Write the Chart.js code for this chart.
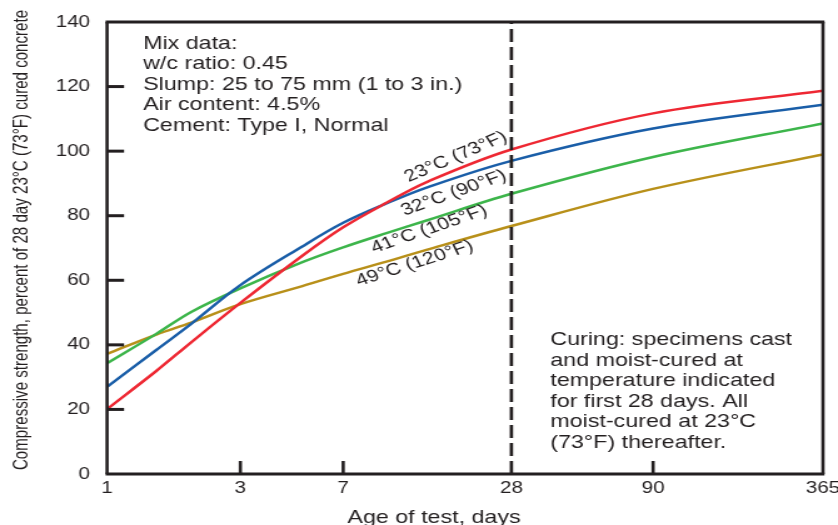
<!DOCTYPE html>
<html>
<head>
<meta charset="utf-8">
<script src="https://cdn.jsdelivr.net/npm/chart.js@4.4.1/dist/chart.umd.min.js"></script>
<style>
  html, body { margin: 0; padding: 0; background: #fff; overflow: hidden; }
  /* 整张图横向拉宽 */
  #wrap { width: 670px; height: 525px; transform: scaleX(1.2507); transform-origin: 0 0; }
</style>
</head>
<body>
<div id="wrap"><canvas id="chart"></canvas></div>
<script>
// 不同养护温度下的强度发展（以 23°C 养护 28 天强度为 100%）
const ageDays = [1, 1.5, 2, 3, 5, 7, 10, 14, 28, 90, 365];
const xTicks = [1, 3, 7, 28, 90, 365];
const yTicks = [0, 20, 40, 60, 80, 100, 120, 140];

const strength23 = [20.1, 31.9, 40.8, 53.0, 67.6, 76.4, 84.0, 90.5, 100.5, 111.7, 118.7];
const strength32 = [27.0, 38.4, 46.5, 58.5, 70.5, 77.8, 83.8, 88.8, 97.0, 107.0, 114.4];
const strength41 = [34.3, 43.4, 50.2, 57.5, 65.6, 70.2, 74.6, 78.6, 86.8, 98.2, 108.6];
const strength49 = [37.2, 43.2, 46.9, 52.6, 58.2, 62.0, 65.8, 69.5, 76.8, 88.3, 99.0];

const seriesNames = ['23°C (73°F)', '32°C (90°F)', '41°C (105°F)', '49°C (120°F)'];
const seriesColors = ['#EE2833', '#1A5EA8', '#3DB54B', '#B8901A'];

const mixLines = [
  'Mix data:',
  'w/c ratio: 0.45',
  'Slump: 25 to 75 mm (1 to 3 in.)',
  'Air content: 4.5%',
  'Cement: Type I, Normal',
];
const curingLines = [
  'Curing: specimens cast',
  'and moist-cured at',
  'temperature indicated',
  'for first 28 days. All',
  'moist-cured at 23°C',
  '(73°F) thereafter.',
];

const yTitle = 'Compressive strength, percent of 28 day 23°C (73°F) cured concrete';
const xTitle = 'Age of test, days';

const ink = '#231F20';
const FONT = '"Liberation Sans", Arial, Helvetica, sans-serif';

// 曲线旁标注：[天数, 数值, 角度]
const curveTags = [
  [17.7, 98.2, -28],
  [17.4, 87.0, -24],
  [14.2, 75.8, -23.3],
  [12.6, 65.2, -21.7],
];

const toPoints = vals => ageDays.map((d, i) => ({ x: d, y: vals[i] }));
const allSeries = [strength23, strength32, strength41, strength49];

function line(ctx, x1, y1, x2, y2) {
  ctx.beginPath(); ctx.moveTo(x1, y1); ctx.lineTo(x2, y2); ctx.stroke();
}

const framePlugin = {
  id: 'frame',
  afterDatasetsDraw(chart) {
    const { ctx, chartArea: a, scales: { x, y } } = chart;
    ctx.save();
    ctx.strokeStyle = ink;
    ctx.fillStyle = ink;

    // 28 天分界虚线
    const x28 = x.getPixelForValue(28);
    ctx.lineWidth = 2.7;
    ctx.setLineDash([13, 5]);
    line(ctx, x28, a.bottom, x28, a.top);
    ctx.setLineDash([]);

    // 边框
    ctx.lineWidth = 3;
    line(ctx, a.left - 1.2, a.top, a.right + 1.2, a.top);
    line(ctx, a.left - 1.2, a.bottom, a.right + 1.2, a.bottom);
    ctx.lineWidth = 2.6;
    line(ctx, a.left, a.top, a.left, a.bottom);
    line(ctx, a.right, a.top, a.right, a.bottom);

    // 朝内的刻度线
    ctx.lineWidth = 3;
    yTicks.slice(1, -1).forEach(v => {
      const py = y.getPixelForValue(v);
      line(ctx, a.left, py, a.left + 13.6, py);
    });
    ctx.lineWidth = 2.6;
    xTicks.slice(1, -1).filter(d => d !== 28).forEach(d => {
      const px = x.getPixelForValue(d);
      line(ctx, px, a.bottom, px, a.bottom - 13);
    });

    // 说明文字
    ctx.font = '18.6px ' + FONT;
    ctx.textAlign = 'left';
    ctx.textBaseline = 'alphabetic';
    mixLines.forEach((t, i) => ctx.fillText(t, a.left + 28.8, 48.5 + i * 20.5));
    curingLines.forEach((t, i) => ctx.fillText(t, a.left + 354.4, 345 + i * 20.5));

    // 曲线标注
    ctx.font = '17px ' + FONT;
    ctx.textAlign = 'center';
    ctx.textBaseline = 'middle';
    curveTags.forEach(([d, v, deg], i) => {
      ctx.save();
      ctx.translate(x.getPixelForValue(d), y.getPixelForValue(v));
      ctx.rotate(deg * Math.PI / 180);
      ctx.fillText(seriesNames[i], 0, 0);
      ctx.restore();
    });

    // 坐标轴标题
    ctx.font = '18.6px ' + FONT;
    ctx.textBaseline = 'alphabetic';
    ctx.fillText(xTitle, 347, 523);

    ctx.save();
    ctx.translate(17.6, 240);
    ctx.rotate(-Math.PI / 2);
    ctx.scale(1, 1.12);
    ctx.font = '15.1px ' + FONT;
    ctx.textBaseline = 'middle';
    ctx.fillText(yTitle, 0, 0);
    ctx.restore();

    ctx.restore();
  },
};

new Chart(document.getElementById('chart'), {
  type: 'line',
  data: {
    datasets: allSeries.map((vals, i) => ({
      label: seriesNames[i],
      data: toPoints(vals),
      borderColor: seriesColors[i],
      borderWidth: 2.5,
      pointRadius: 0,
      fill: false,
      tension: 0.35,
    })),
  },
  options: {
    responsive: true,
    maintainAspectRatio: false,
    animation: false,
    layout: { padding: { top: 22, right: 12, left: 0, bottom: 0 } },
    plugins: { legend: { display: false }, tooltip: { enabled: false } },
    scales: {
      x: {
        type: 'logarithmic',
        min: 1,
        max: 365,
        grid: { display: false, drawTicks: false },
        border: { display: false },
        afterBuildTicks: s => { s.ticks = xTicks.map(v => ({ value: v })); },
        afterFit: s => { s.height = 51; s.paddingLeft = 0; s.paddingRight = 0; },
        ticks: {
          autoSkip: false,
          maxRotation: 0,
          padding: 5,
          color: ink,
          font: { family: FONT, size: 16.5 },
          callback: v => String(v),
        },
      },
      y: {
        min: 0,
        max: 140,
        grid: { display: false, drawTicks: false },
        border: { display: false },
        afterBuildTicks: s => { s.ticks = yTicks.map(v => ({ value: v })); },
        afterFit: s => { s.width = 85.6; s.paddingTop = 0; s.paddingBottom = 0; },
        ticks: {
          padding: 13.6,
          color: ink,
          font: { family: FONT, size: 16.5 },
        },
      },
    },
  },
  plugins: [framePlugin],
});
</script>
</body>
</html>
